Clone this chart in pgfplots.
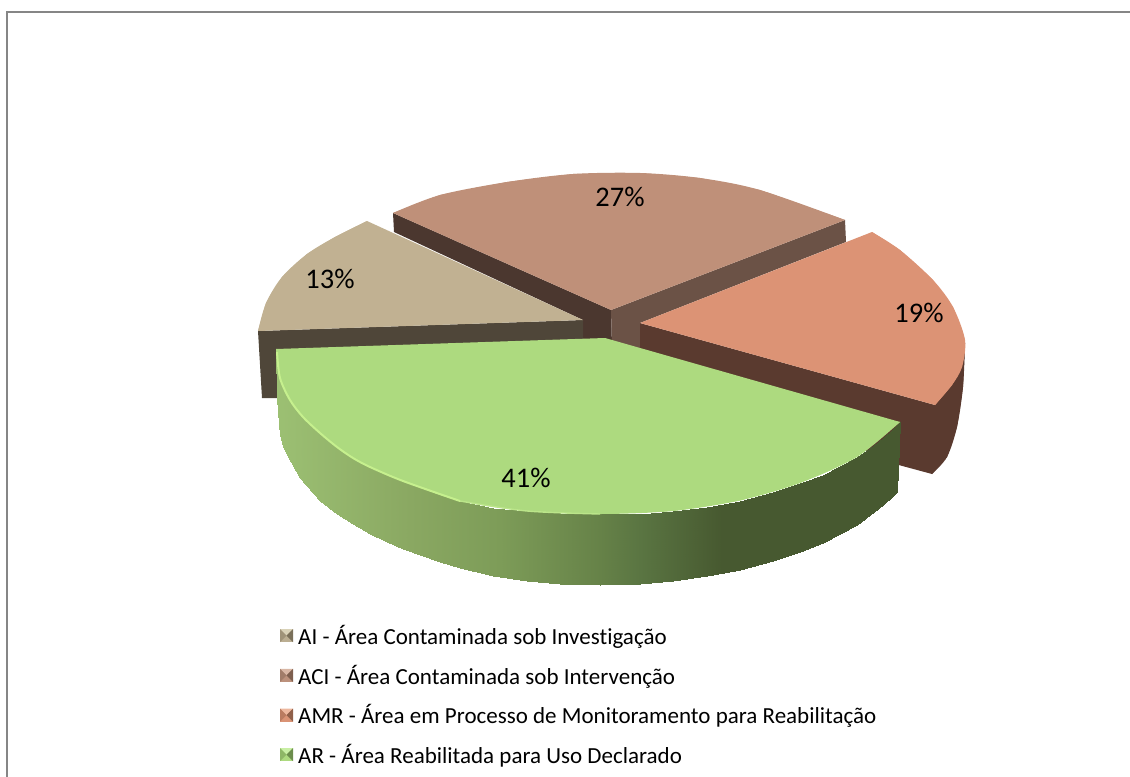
\documentclass[border=0pt]{standalone}
\usepackage{fontspec}
\setmainfont{Carlito}[Ligatures=NoCommon]
\usepackage{pgfplots}
\pgfplotsset{compat=1.18}
\definecolor{aiT}{HTML}{C1B192}
\definecolor{aiW}{HTML}{4F4639}
\definecolor{aciT}{HTML}{BF9079}
\definecolor{aciL}{HTML}{4B372F}
\definecolor{aciR}{HTML}{6B5246}
\definecolor{amrT}{HTML}{DC9375}
\definecolor{amrW}{HTML}{5A3A2F}
\definecolor{arT}{HTML}{ADDA7F}
\definecolor{arR}{HTML}{C6F08E}
\definecolor{arQ}{HTML}{BBE58A}
\newcommand{\bev}[4]{%
  \path[draw=none, fill=#4] (0bp,-6.5bp) rectangle (13bp,6.5bp);
  \path[draw=none, fill=#1] (0bp,6.5bp) -- (13bp,6.5bp) -- (6.5bp,0bp) -- cycle;
  \path[draw=none, fill=#2] (0bp,6.5bp) -- (0bp,-6.5bp) -- (6.5bp,0bp) -- cycle;
  \path[draw=none, fill=#3] (13bp,6.5bp) -- (13bp,-6.5bp) -- (6.5bp,0bp) -- cycle;
  \path (16bp,0bp);
}
\definecolor{a1}{HTML}{D9D2B8}\definecolor{a2}{HTML}{9F9379}\definecolor{a3}{HTML}{7A705A}\definecolor{a4}{HTML}{BBAE92}
\definecolor{b1}{HTML}{D9B7A5}\definecolor{b2}{HTML}{A17C69}\definecolor{b3}{HTML}{7E5F4F}\definecolor{b4}{HTML}{BC917C}
\definecolor{c1}{HTML}{EDB89F}\definecolor{c2}{HTML}{BA7B60}\definecolor{c3}{HTML}{90604A}\definecolor{c4}{HTML}{DA9375}
\definecolor{d1}{HTML}{C9EFA5}\definecolor{d2}{HTML}{8EB766}\definecolor{d3}{HTML}{6C8D4D}\definecolor{d4}{HTML}{ADDA7F}
\begin{document}
\begin{tikzpicture}
\path[use as bounding box] (0,0) rectangle (1130bp,777bp);
\begin{axis}[
  at={(0,0)}, anchor=south west,
  scale only axis, width=1130bp, height=777bp,
  xmin=0, xmax=1130, ymin=0, ymax=777, y dir=reverse,
  hide axis,
  legend cell align=left,
  legend style={at={(axis cs:280,623.3)}, anchor=north west, draw=none, fill=none,
    font=\fontsize{23.1}{26}\selectfont, row sep=15bp, inner sep=0pt, outer sep=0pt},
  colormap={gside}{rgb255(276)=(156,192,115) rgb255(410)=(138,168,98) rgb255(500)=(125,156,88) rgb255(600)=(102,130,72) rgb255(640)=(90,117,66) rgb255(722)=(71,89,48) rgb255(900)=(71,89,48)},
  point meta min=276, point meta max=900,
]
% frame
\addplot[draw=gray!95, line width=1.6bp, forget plot] coordinates {(7,777) (7,12) (1130,12)};
% ACI walls
\addplot[fill=aciL, draw=none, forget plot] coordinates {(393,213) (611,310) (612,346) (583,346) (583,320) (394,232)};
\addplot[fill=aciR, draw=none, forget plot] coordinates {(611,310) (845,220) (846,242) (640,323) (640,350) (612,346)};
% ACI top
\addplot[fill=aciT, draw=none, forget plot] coordinates {(611,310) (393,213) (440,195) (507,182) (573,174) (640,173) (700,178) (760,190) (845,220)};
\addplot[fill=aciT, draw=none, smooth, forget plot] coordinates {(393,213) (440,195) (507,182) (573,174) (640,173) (700,178) (760,190) (845,220)};
% AI wall and top
\addplot[fill=aiW, draw=none, forget plot] coordinates {(583,320) (258,331) (262,398) (290,398) (583,346)};
\addplot[fill=aiT, draw=none, forget plot] coordinates {(583,320) (367,221) (335,237) (307,254) (282,277) (266,303) (258,331)};
\addplot[fill=aiT, draw=none, smooth, forget plot] coordinates {(367,221) (335,237) (307,254) (282,277) (266,303) (258,331)};
% AMR wall and top
\addplot[fill=amrW, draw=none, forget plot] coordinates {(640,323) (935,405) (965,343) (963,387) (957,427) (947,457) (932,474) (895,464) (640,350)};
\addplot[fill=amrW, draw=none, smooth, forget plot] coordinates {(965,343) (963,387) (957,427) (947,457) (932,474)};
\addplot[fill=amrT, draw=none, forget plot] coordinates {(640,323) (872,232) (900,250) (933,280) (953,307) (965,340) (962,367) (952,385) (935,405)};
\addplot[fill=amrT, draw=none, smooth, forget plot] coordinates {(872,232) (900,250) (933,280) (953,307) (965,340) (962,367) (952,385) (935,405)};
% AR side wall
\addplot[surf, shader=interp, mesh/rows=2, mesh/cols=32, point meta=x, forget plot] coordinates {
(276,349) (277,358) (280,378) (285,390) (290,400) (303,417) (320,433) (337,447) (353,458) (370,467) (387,474) (403,481) (420,487) (440,494) (460,501) (493,507.5) (527,511) (560,513) (600,514) (640,513.5) (673,511) (707,507) (740,500.5) (773,491.5) (800,483) (823,474.5) (840,466) (857,457) (870,448) (883,438) (893,429) (900,422)
(277,398) (278,412) (280,435) (283,446) (287,455) (300,478) (320,501) (337,514) (353,524) (370,534) (387,542) (403,549) (420,555) (440,562) (460,568) (493,576) (527,581) (560,583.5) (600,585) (640,584) (673,581) (707,576) (740,569.5) (773,561) (800,552) (823,542.5) (840,534) (857,524.5) (870,515) (883,504.5) (893,496) (897,492)
};
% AR top
\addplot[fill=arT, draw=none, forget plot] coordinates {(605,338) (276,349) (280,378) (290,400) (303,417) (320,433) (337,447) (353,458) (370,467) (403,481) (460,501) (527,511) (600,514) (673,511) (740,500.5) (800,483) (857,457) (900,422)};
\addplot[fill=arT, draw=none, smooth, forget plot] coordinates {(276,349) (280,378) (290,400) (303,417) (320,433) (337,447) (353,458) (370,467) (403,481) (460,501) (527,511) (600,514) (673,511) (740,500.5) (800,483) (857,457) (900,422)};
% AR rim highlight
\addplot[draw=arR, line width=2bp, smooth, forget plot] coordinates {(277,352) (280,378) (290,400) (303,417) (320,433) (337,447) (353,458) (370,467) (403,481) (460,501)};
\addplot[draw=arQ, line width=1.4bp, smooth, forget plot] coordinates {(460,501) (527,511) (600,514)};
% labels
\node[font=\fontsize{28.5}{30}\selectfont] at (axis cs:620,197) {27\%};
\node[font=\fontsize{28.5}{30}\selectfont] at (axis cs:330,279) {13\%};
\node[font=\fontsize{28.5}{30}\selectfont] at (axis cs:919,313) {19\%};
\node[font=\fontsize{28.5}{30}\selectfont] at (axis cs:526,478) {41\%};
% legend
\addlegendimage{legend image code/.code={\bev{a1}{a2}{a3}{a4}}}
\addlegendentry{AI - Área Contaminada sob Investigação}
\addlegendimage{legend image code/.code={\bev{b1}{b2}{b3}{b4}}}
\addlegendentry{ACI - Área Contaminada sob Intervenção}
\addlegendimage{legend image code/.code={\bev{c1}{c2}{c3}{c4}}}
\addlegendentry{AMR - Área em Processo de Monitoramento para Reabilitação}
\addlegendimage{legend image code/.code={\bev{d1}{d2}{d3}{d4}}}
\addlegendentry{AR - Área Reabilitada para Uso Declarado}
\end{axis}
\end{tikzpicture}
\end{document}
